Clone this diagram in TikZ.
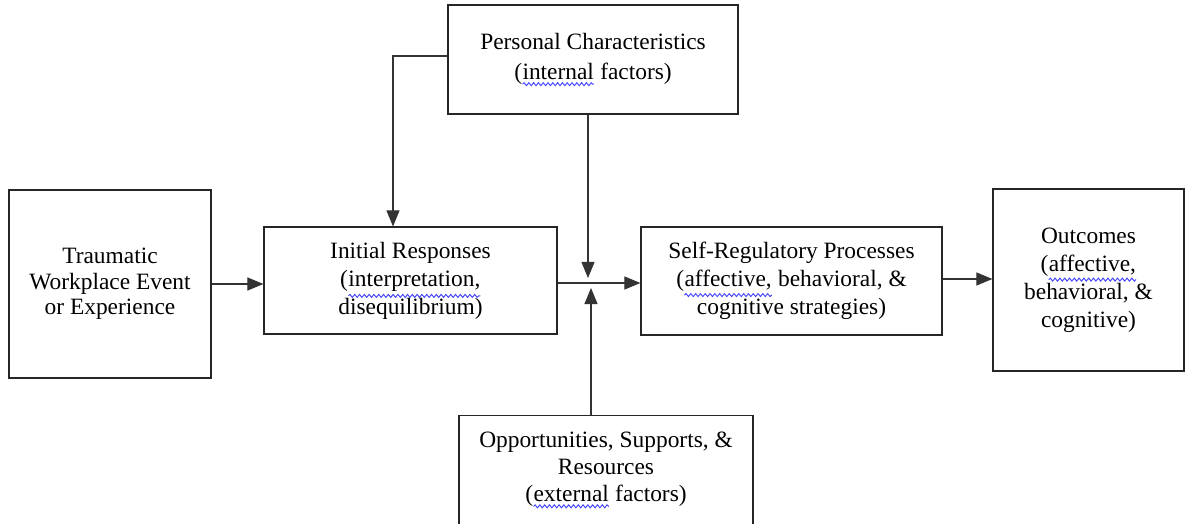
\documentclass[tikz,border=0pt]{standalone}
\usepackage{fontspec}
\setmainfont{Liberation Serif}
\usetikzlibrary{arrows.meta,decorations.pathmorphing}
\newcommand\squig[1]{\tikz[baseline=(w.base),x=1cm,y=1cm]{\node[draw=none,shape=rectangle,inner sep=0pt,outer sep=0pt,minimum width=0pt,minimum height=0pt,anchor=center](w){#1};\draw[blue!75!white,line width=0.45pt,decorate,decoration={snake,amplitude=0.75pt,segment length=2.4pt}] ([yshift=-2.4pt]w.south west) -- ([yshift=-2.4pt]w.south east);}}
\tikzset{
  box/.style={draw=black!85, line width=0.6pt, align=center, inner sep=2pt,
    font=\fontsize{11.7}{14}\selectfont},
  conn/.style={draw=black!80, line width=0.55pt},
  arr/.style={conn, -{Triangle[length=8pt,width=6.5pt]}},
}
\begin{document}
\begin{tikzpicture}[x=0.5pt,y=-0.5pt]
\useasboundingbox (0,0) rectangle (1185,524);
\clip (0,0) rectangle (1185,524);
\fill[white] (0,0) rectangle (1185,524);

\node[box, minimum width=101pt, minimum height=94pt, font=\fontsize{11.7}{12.8}\selectfont] (trauma) at (110,284)
  {Traumatic\\Workplace Event\\or Experience};
\node[box, minimum width=146.5pt, minimum height=53.5pt] (init) at (410.5,280.5)
  {Initial Responses\\(\squig{interpretation,}\\disequilibrium)};
\node[box, minimum width=145pt, minimum height=54.5pt, font=\fontsize{11.7}{15}\selectfont] (pers) at (593,59.5)
  {Personal Characteristics\\(\squig{internal} factors)};
\node[box, minimum width=150.5pt, minimum height=54pt] (self) at (791.5,281)
  {Self-Regulatory Processes\\(\squig{affective,} behavioral, \&\\cognitive strategies)};
\node[box, minimum width=95.5pt, minimum height=91pt] (out) at (1088.5,280)
  {Outcomes\\(\squig{affective,}\\behavioral, \&\\cognitive)};
\node[box, minimum width=147pt, minimum height=80pt, anchor=north] (opp) at (606,415) {};
\node[align=center, inner sep=0pt, font=\fontsize{11.7}{13.5}\selectfont] (opptext) at (606,470)
  {Opportunities, Supports, \&\\Resources\\(\squig{external} factors)};

\coordinate (j) at (589,283);
\coordinate (pl) at (393,56);
\coordinate (jt) at (588,278);
\coordinate (jb) at (591,288);

\draw[arr] (trauma.east) -- (trauma.east -| init.west);
\draw[arr] (j -| init.east) -- (j -| self.west);
\draw[arr] (pers.west |- pl) -- (pl) -- (pl |- init.north);
\draw[arr] (jt |- pers.south) -- (jt);
\draw[arr] (jb |- opp.north) -- (jb);
\draw[arr] (self.east |- 0,279) -- (out.west |- 0,279);
\end{tikzpicture}
\end{document}
